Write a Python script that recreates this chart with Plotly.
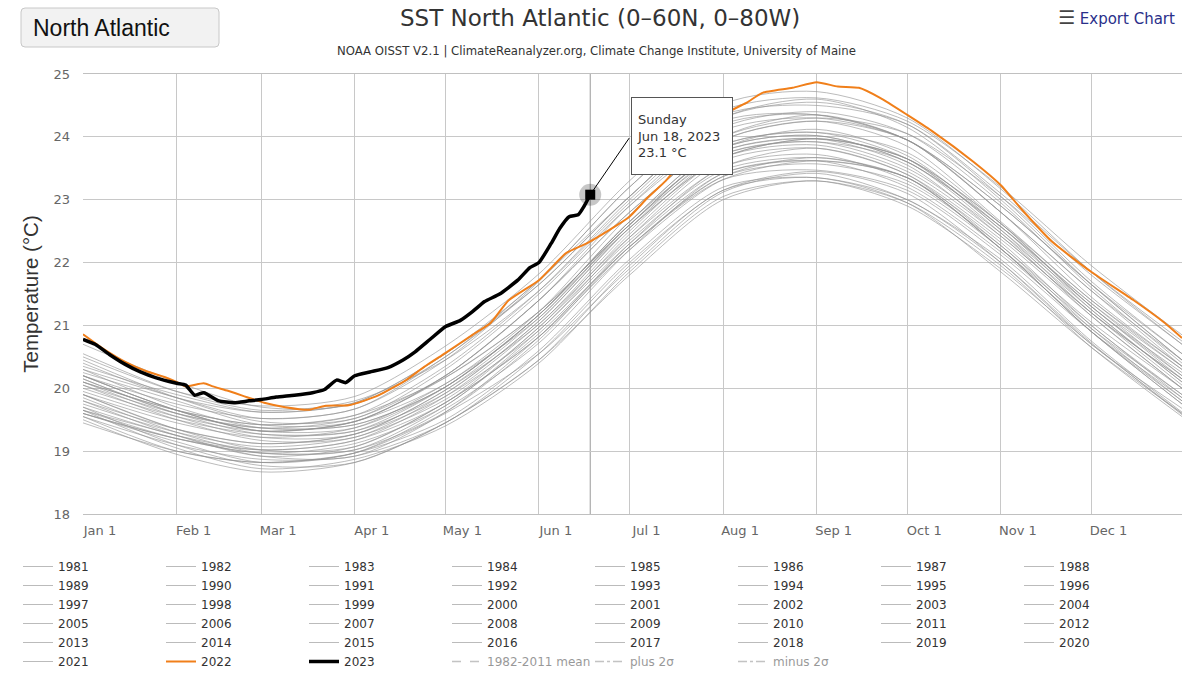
import plotly.graph_objects as go

# ---------------- data ----------------
KNOTS = ["01-01", "02-01", "03-01", "04-01", "05-01", "06-01", "07-01",
         "08-01", "09-01", "10-01", "11-01", "12-01", "12-31"]

sst_1981 = [19.65, 19.25, 18.92, 18.92, 19.62, 20.82, 22.25, 23.32, 23.47, 23.15, 22.12, 20.90, 19.85]
sst_1982 = [19.70, 19.10, 18.77, 18.82, 19.45, 20.45, 21.95, 23.15, 23.35, 22.95, 21.85, 20.65, 19.60]
sst_1983 = [19.60, 19.20, 18.97, 19.12, 19.72, 20.92, 22.30, 23.42, 23.62, 23.35, 22.22, 20.90, 19.75]
sst_1984 = [19.55, 19.00, 18.82, 18.97, 19.60, 20.55, 21.90, 23.12, 23.42, 23.00, 22.05, 20.75, 19.62]
sst_1985 = [19.50, 18.95, 18.67, 18.82, 19.45, 20.45, 21.80, 23.00, 23.30, 22.90, 21.90, 20.70, 19.60]
sst_1986 = [19.45, 19.00, 18.82, 18.97, 19.50, 20.60, 22.05, 23.20, 23.35, 23.00, 22.00, 20.72, 19.58]
sst_1987 = [19.60, 19.20, 19.02, 19.17, 19.87, 21.02, 22.40, 23.52, 23.82, 23.40, 22.27, 21.05, 20.00]
sst_1988 = [19.90, 19.35, 19.02, 19.07, 19.77, 20.82, 22.30, 23.52, 23.72, 23.30, 22.27, 20.95, 19.80]
sst_1989 = [19.65, 19.20, 18.97, 19.02, 19.62, 20.77, 22.25, 23.37, 23.57, 23.25, 22.22, 20.90, 19.80]
sst_1990 = [19.70, 19.25, 19.02, 19.17, 19.77, 20.97, 22.35, 23.47, 23.67, 23.35, 22.32, 21.00, 19.90]
sst_1991 = [19.80, 19.25, 18.92, 19.07, 19.77, 20.82, 22.20, 23.32, 23.62, 23.35, 22.22, 20.90, 19.75]
sst_1992 = [19.65, 19.05, 18.72, 18.87, 19.40, 20.40, 21.85, 23.05, 23.30, 22.95, 21.95, 20.65, 19.55]
sst_1993 = [19.55, 19.10, 18.87, 18.92, 19.45, 20.55, 22.00, 23.15, 23.45, 23.10, 22.00, 20.70, 19.68]
sst_1994 = [19.60, 19.15, 18.82, 18.97, 19.67, 20.72, 22.20, 23.42, 23.62, 23.20, 22.17, 20.95, 19.90]
sst_1995 = [19.80, 19.35, 19.12, 19.27, 19.97, 21.12, 22.60, 23.72, 23.92, 23.60, 22.47, 21.15, 20.00]
sst_1996 = [19.85, 19.30, 18.97, 19.02, 19.72, 20.87, 22.25, 23.37, 23.67, 23.35, 22.22, 21.00, 19.85]
sst_1997 = [19.75, 19.30, 19.07, 19.22, 19.82, 20.97, 22.45, 23.67, 23.87, 23.45, 22.42, 21.20, 20.15]
sst_1998 = [20.10, 19.65, 19.42, 19.57, 20.17, 21.22, 22.60, 23.82, 24.02, 23.60, 22.57, 21.25, 20.10]
sst_1999 = [19.95, 19.50, 19.27, 19.32, 19.92, 21.07, 22.55, 23.77, 23.97, 23.55, 22.42, 21.20, 20.05]
sst_2000 = [19.90, 19.35, 19.12, 19.27, 19.87, 20.92, 22.40, 23.62, 23.82, 23.40, 22.37, 21.15, 20.00]
sst_2001 = [19.90, 19.45, 19.22, 19.37, 20.07, 21.12, 22.60, 23.82, 24.02, 23.60, 22.57, 21.35, 20.20]
sst_2002 = [20.10, 19.55, 19.22, 19.27, 19.97, 21.02, 22.50, 23.72, 23.92, 23.50, 22.47, 21.25, 20.10]
sst_2003 = [20.00, 19.55, 19.32, 19.47, 20.20, 21.40, 22.80, 23.95, 24.25, 23.85, 22.65, 21.40, 20.30]
sst_2004 = [20.20, 19.65, 19.32, 19.37, 20.02, 21.17, 22.65, 23.77, 23.97, 23.65, 22.62, 21.30, 20.20]
sst_2005 = [20.10, 19.65, 19.42, 19.57, 20.35, 21.55, 23.00, 24.20, 24.35, 23.95, 22.80, 21.55, 20.35]
sst_2006 = [20.25, 19.80, 19.42, 19.47, 20.20, 21.40, 22.80, 23.95, 24.25, 23.95, 22.80, 21.45, 20.35]
sst_2007 = [20.15, 19.60, 19.27, 19.32, 20.02, 21.17, 22.55, 23.67, 23.97, 23.65, 22.52, 21.20, 20.15]
sst_2008 = [20.05, 19.60, 19.37, 19.42, 20.02, 21.17, 22.65, 23.87, 24.07, 23.65, 22.52, 21.30, 20.15]
sst_2009 = [20.05, 19.50, 19.17, 19.22, 19.92, 21.07, 22.55, 23.67, 23.97, 23.65, 22.62, 21.40, 20.35]
sst_2010 = [20.35, 19.90, 19.62, 19.77, 20.55, 21.65, 23.05, 24.30, 24.60, 24.15, 23.00, 21.65, 20.45]
sst_2011 = [20.20, 19.65, 19.32, 19.47, 20.17, 21.22, 22.60, 23.82, 24.12, 23.70, 22.57, 21.35, 20.30]
sst_2012 = [20.20, 19.75, 19.52, 19.67, 20.50, 21.65, 23.05, 24.25, 24.35, 23.95, 22.90, 21.65, 20.45]
sst_2013 = [20.30, 19.70, 19.37, 19.42, 20.02, 21.17, 22.65, 23.87, 24.07, 23.75, 22.62, 21.30, 20.25]
sst_2014 = [20.15, 19.60, 19.37, 19.52, 20.20, 21.40, 22.90, 24.10, 24.30, 23.95, 22.90, 21.65, 20.55]
sst_2015 = [20.45, 19.85, 19.47, 19.52, 20.30, 21.50, 22.90, 24.00, 24.30, 24.05, 23.05, 21.80, 20.70]
sst_2016 = [20.70, 20.10, 19.70, 19.75, 20.50, 21.72, 23.05, 24.30, 24.55, 24.20, 23.05, 21.70, 20.55]
sst_2017 = [20.55, 19.95, 19.65, 19.80, 20.45, 21.55, 22.95, 24.15, 24.40, 24.05, 22.95, 21.60, 20.40]
sst_2018 = [20.20, 19.65, 19.32, 19.47, 20.07, 21.22, 22.75, 24.00, 24.35, 23.95, 22.80, 21.55, 20.45]
sst_2019 = [20.30, 19.85, 19.52, 19.67, 20.45, 21.70, 23.20, 24.35, 24.50, 24.20, 23.10, 21.85, 20.75]
sst_2020 = [20.50, 19.95, 19.72, 19.87, 20.67, 21.82, 23.30, 24.52, 24.72, 24.30, 23.17, 21.85, 20.70]
sst_2021 = [20.40, 19.85, 19.62, 19.77, 20.55, 21.72, 23.20, 24.42, 24.62, 24.25, 23.20, 21.95, 20.85]

mean_1982_2011 = [19.95, 19.45, 19.17, 19.27, 19.92, 21.02, 22.45, 23.62, 23.87, 23.50, 22.42, 21.15, 20.05]
plus_2sigma = [20.50, 20.00, 19.72, 19.82, 20.47, 21.57, 23.00, 24.17, 24.42, 24.05, 22.97, 21.70, 20.60]
minus_2sigma = [19.40, 18.90, 18.62, 18.72, 19.37, 20.47, 21.90, 23.07, 23.32, 22.95, 21.87, 20.60, 19.50]

dates_2022 = ["01-01", "01-08", "01-15", "01-22", "01-28", "02-01", "02-04", "02-10", "02-13",
              "02-18", "02-23", "03-02", "03-09", "03-17", "03-22", "03-30", "04-04", "04-09",
              "04-18", "04-24", "05-01", "05-10", "05-16", "05-22", "06-01", "06-10", "06-17",
              "06-27", "07-01", "07-07", "07-13", "07-20", "07-27", "08-03", "08-09", "08-14",
              "08-24", "09-01", "09-08", "09-15", "09-22", "10-01", "10-09", "10-23", "11-01",
              "11-08", "11-18", "12-01", "12-15", "12-25", "12-31"]
sst_2022 = [20.86, 20.62, 20.42, 20.27, 20.18, 20.10, 20.03, 20.08, 20.03,
            19.96, 19.88, 19.77, 19.70, 19.66, 19.72, 19.73, 19.80, 19.89,
            20.13, 20.34, 20.56, 20.85, 21.04, 21.40, 21.72, 22.15, 22.31,
            22.60, 22.73, 23.03, 23.30, 23.70, 24.10, 24.40, 24.55, 24.70,
            24.78, 24.87, 24.80, 24.78, 24.62, 24.35, 24.10, 23.60, 23.23,
            22.84, 22.33, 21.85, 21.40, 21.05, 20.80]

dates_2023 = ["01-01", "01-05", "01-10", "01-15", "01-20", "01-25", "02-01", "02-04", "02-07",
              "02-10", "02-15", "02-20", "02-25", "03-01", "03-06", "03-12", "03-18", "03-22",
              "03-26", "03-29", "04-01", "04-06", "04-12", "04-17", "04-21", "04-26", "05-01",
              "05-06", "05-10", "05-14", "05-19", "05-25", "05-29", "06-01", "06-05", "06-08",
              "06-11", "06-14", "06-16", "06-18"]
sst_2023 = [20.78, 20.70, 20.53, 20.38, 20.26, 20.17, 20.08, 20.05, 19.89,
            19.93, 19.80, 19.77, 19.80, 19.82, 19.86, 19.89, 19.93, 19.98,
            20.13, 20.09, 20.20, 20.26, 20.33, 20.45, 20.58, 20.78, 20.98,
            21.08, 21.22, 21.38, 21.50, 21.72, 21.92, 22.00, 22.30, 22.55,
            22.73, 22.76, 22.90, 23.08]

tooltip_date = "06-18"
tooltip_value = 23.1

MONTH_TICKS = ["01-01", "02-01", "03-01", "04-01", "05-01", "06-01", "07-01",
               "08-01", "09-01", "10-01", "11-01", "12-01"]
MONTH_LABELS = ["Jan 1", "Feb 1", "Mar 1", "Apr 1", "May 1", "Jun 1", "Jul 1",
                "Aug 1", "Sep 1", "Oct 1", "Nov 1", "Dec 1"]
Y_TICKS = [18, 19, 20, 21, 22, 23, 24, 25]

gray_years = [
    (1981, sst_1981), (1982, sst_1982), (1983, sst_1983), (1984, sst_1984), (1985, sst_1985),
    (1986, sst_1986), (1987, sst_1987), (1988, sst_1988), (1989, sst_1989), (1990, sst_1990),
    (1991, sst_1991), (1992, sst_1992), (1993, sst_1993), (1994, sst_1994), (1995, sst_1995),
    (1996, sst_1996), (1997, sst_1997), (1998, sst_1998), (1999, sst_1999), (2000, sst_2000),
    (2001, sst_2001), (2002, sst_2002), (2003, sst_2003), (2004, sst_2004), (2005, sst_2005),
    (2006, sst_2006), (2007, sst_2007), (2008, sst_2008), (2009, sst_2009), (2010, sst_2010),
    (2011, sst_2011), (2012, sst_2012), (2013, sst_2013), (2014, sst_2014), (2015, sst_2015),
    (2016, sst_2016), (2017, sst_2017), (2018, sst_2018), (2019, sst_2019), (2020, sst_2020),
    (2021, sst_2021),
]


def d(md):
    return "2023-" + md


# ---------------- layout geometry (page pixels) ----------------
W, H = 1200, 675
PL, PR, PT, PB = 83, 1182, 74, 514


def px_x(p):
    return (p - PL) / (PR - PL)


def px_y(p):
    return (PB - p) / (PB - PT)


TICK_FONT = "DejaVu Sans"

fig = go.Figure()

for yr, vals in gray_years:
    fig.add_trace(go.Scatter(
        x=[d(k) for k in KNOTS], y=vals, mode="lines", name=str(yr),
        line=dict(color="rgba(145,145,145,0.62)", width=1, shape="spline", smoothing=0.8),
    ))

fig.add_trace(go.Scatter(
    x=[d(k) for k in dates_2022], y=sst_2022, mode="lines", name="2022",
    line=dict(color="#f07f1a", width=2, shape="spline", smoothing=0.5),
))
fig.add_trace(go.Scatter(
    x=[d(k) for k in dates_2023], y=sst_2023, mode="lines", name="2023",
    line=dict(color="#000000", width=3.5, shape="spline", smoothing=0.5),
))
fig.add_trace(go.Scatter(
    x=[d(k) for k in KNOTS], y=mean_1982_2011, mode="lines", name="1982-2011 mean",
    line=dict(color="#888888", width=1.5, dash="dash"), visible="legendonly",
))
fig.add_trace(go.Scatter(
    x=[d(k) for k in KNOTS], y=plus_2sigma, mode="lines", name="plus 2σ",
    line=dict(color="#888888", width=1.5, dash="dashdot"), visible="legendonly",
))
fig.add_trace(go.Scatter(
    x=[d(k) for k in KNOTS], y=minus_2sigma, mode="lines", name="minus 2σ",
    line=dict(color="#888888", width=1.5, dash="dashdot"), visible="legendonly",
))

# hovered point marker
fig.add_trace(go.Scatter(
    x=[d(tooltip_date)], y=[sst_2023[-1]], mode="markers", showlegend=False,
    marker=dict(symbol="circle", size=22, color="rgba(0,0,0,0.22)"),
    hoverinfo="skip",
))
fig.add_trace(go.Scatter(
    x=[d(tooltip_date)], y=[sst_2023[-1]], mode="markers", showlegend=False,
    marker=dict(symbol="square", size=10, color="#000000"),
    hoverinfo="skip",
))

# crosshair + tooltip connector
fig.add_shape(type="line", xref="x", yref="paper", x0=d(tooltip_date), x1=d(tooltip_date),
              y0=0, y1=1, line=dict(color="#999999", width=1), layer="below")
fig.add_shape(type="line", xref="x", yref="y", x0=d(tooltip_date), y0=sst_2023[-1],
              x1="2023-06-30 21:36", y1=23.98, line=dict(color="#000000", width=1), layer="above")

fig.add_annotation(
    x=d(tooltip_date), y=sst_2023[-1], xref="x", yref="y",
    xanchor="left", yanchor="bottom", xshift=41, yshift=20, showarrow=False,
    text="Sunday<br>Jun 18, 2023<br>" + f"{tooltip_value:.1f} °C",
    align="left", valign="middle", width=90, height=66,
    bgcolor="#ffffff", bordercolor="#555555", borderwidth=1, borderpad=5,
    font=dict(family=TICK_FONT, size=13, color="#333333"),
)

# dropdown box (rounded rectangle)
bx0, bx1, by_top, by_bot = px_x(21), px_x(219), px_y(8), px_y(47)
rx, ry = 4 / (PR - PL), 4 / (PB - PT)
box_path = (
    f"M {bx0 + rx},{by_top} L {bx1 - rx},{by_top} Q {bx1},{by_top} {bx1},{by_top - ry} "
    f"L {bx1},{by_bot + ry} Q {bx1},{by_bot} {bx1 - rx},{by_bot} "
    f"L {bx0 + rx},{by_bot} Q {bx0},{by_bot} {bx0},{by_bot + ry} "
    f"L {bx0},{by_top - ry} Q {bx0},{by_top} {bx0 + rx},{by_top} Z"
)
fig.add_shape(type="path", xref="paper", yref="paper", path=box_path,
              fillcolor="#f2f2f2", line=dict(color="#c8c8c8", width=1), layer="above")
fig.add_annotation(xref="paper", yref="paper", x=px_x(31), y=px_y(28), xanchor="left",
                   yanchor="middle", showarrow=False, text="North Atlantic",
                   font=dict(family="Liberation Sans, Arial", size=23, color="#111111"))

# titles
fig.add_annotation(xref="paper", yref="paper", x=px_x(600), y=px_y(18), xanchor="center",
                   yanchor="middle", showarrow=False,
                   text="SST North Atlantic (0–60N, 0–80W)",
                   font=dict(family=TICK_FONT, size=23, color="#333333"))
fig.add_annotation(xref="paper", yref="paper", x=px_x(596), y=px_y(51), xanchor="center",
                   yanchor="middle", showarrow=False,
                   text="NOAA OISST V2.1 | ClimateReanalyzer.org, Climate Change Institute, University of Maine",
                   font=dict(family=TICK_FONT, size=11.7, color="#333333"))
fig.add_annotation(xref="paper", yref="paper", x=px_x(1177), y=px_y(17), xanchor="right",
                   yanchor="middle", showarrow=False,
                   text="<span style='font-size:19px;color:#444444'>☰</span> Export Chart",
                   font=dict(family=TICK_FONT, size=15, color="#2a2f8a"))

fig.update_layout(
    width=W, height=H,
    margin=dict(l=PL, r=W - PR, t=PT, b=H - PB, autoexpand=False),
    paper_bgcolor="#ffffff", plot_bgcolor="#ffffff",
    hovermode=False,
    showlegend=True,
    legend=dict(
        orientation="h", x=px_x(18), y=px_y(552), xanchor="left", yanchor="top",
        entrywidth=98, entrywidthmode="pixels", traceorder="normal",
        font=dict(family=TICK_FONT, size=12, color="#333333"),
        bgcolor="rgba(0,0,0,0)", borderwidth=0, itemclick=False, itemdoubleclick=False,
    ),
    xaxis=dict(
        type="date", range=[d("01-01"), d("12-31")],
        tickmode="array", tickvals=[d(k) for k in MONTH_TICKS], ticktext=MONTH_LABELS,
        ticklabelshift=17, ticklabelstandoff=4, showgrid=True, gridcolor="#c8c8c8", gridwidth=1,
        showline=True, linecolor="#c0c0c0", linewidth=1, mirror=True, zeroline=False,
        ticks="", tickfont=dict(family=TICK_FONT, size=13, color="#666666"),
    ),
    yaxis=dict(
        range=[18, 25], tickmode="array", tickvals=Y_TICKS,
        showgrid=True, gridcolor="#c8c8c8", gridwidth=1, zeroline=False,
        showline=False, ticks="", ticklabelstandoff=12,
        tickfont=dict(family=TICK_FONT, size=13, color="#666666"),
        title=dict(text="Temperature (°C)", standoff=9,
                   font=dict(family="Liberation Sans, Arial", size=20.5, color="#333333")),
    ),
)

# the default page has an 8px body margin; remove it so the figure sits at the page origin
fig.write_html("out.html", config={"displayModeBar": False},
               post_script="document.body.style.margin='0px';")
